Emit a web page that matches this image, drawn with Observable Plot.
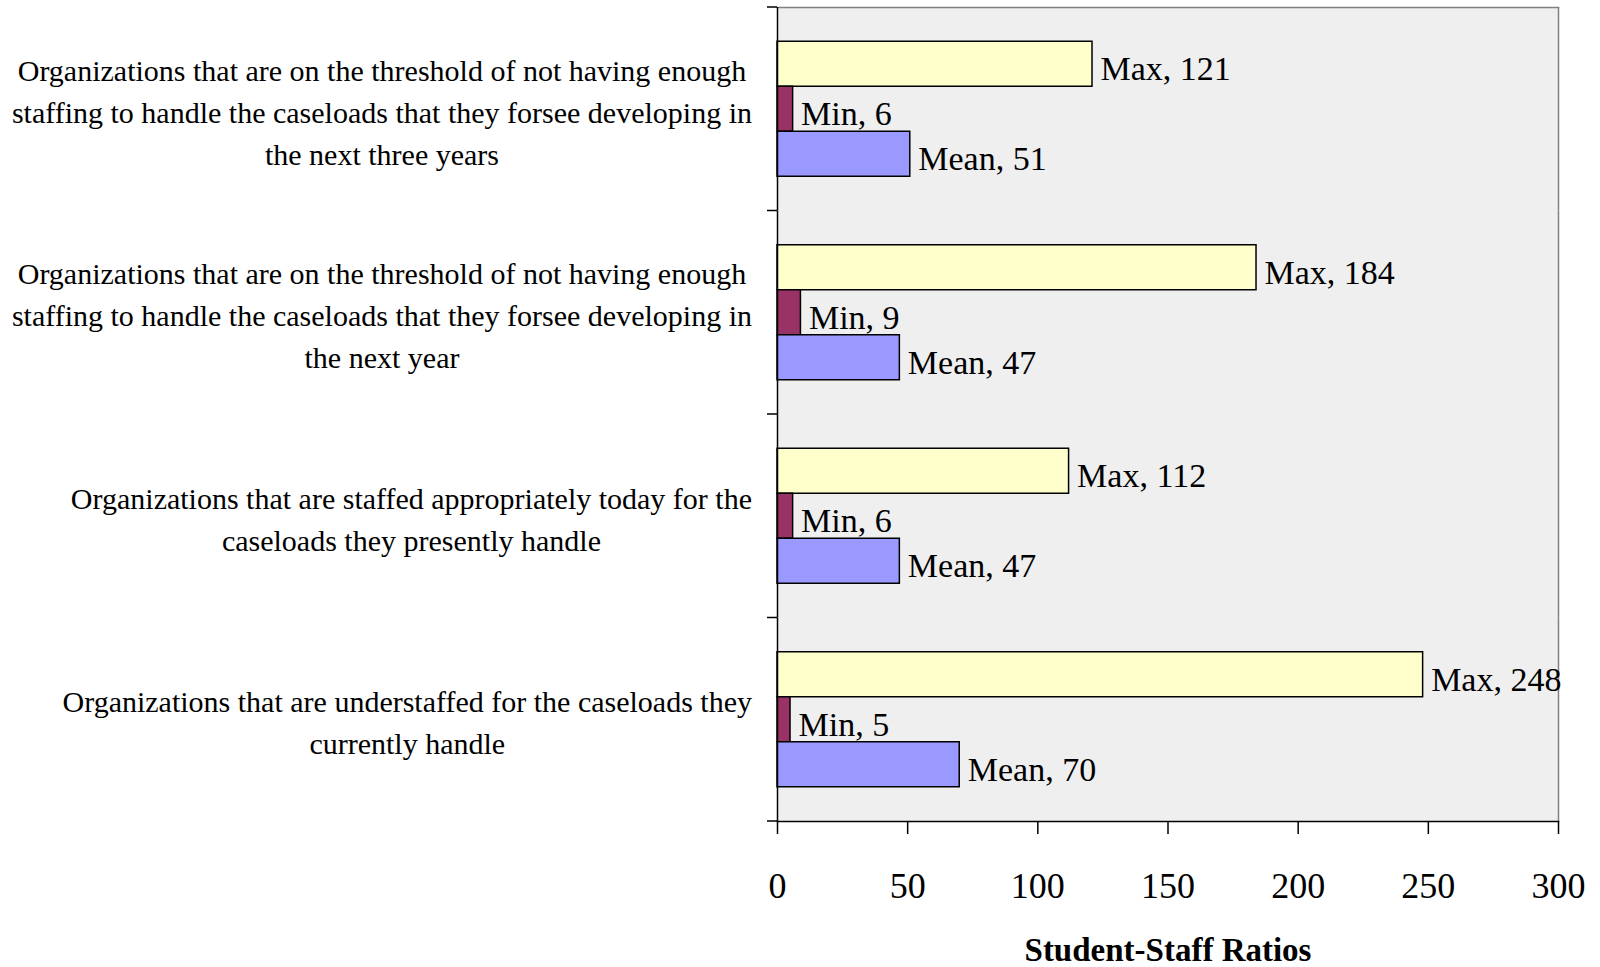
<!DOCTYPE html>
<html><head><meta charset="utf-8">
<script src="https://cdn.jsdelivr.net/npm/d3@7"></script>
<script src="https://cdn.jsdelivr.net/npm/@observablehq/plot@0.6"></script>
<style>body{margin:0;background:#fff}</style>
</head><body><div id="chart"></div>
<script>
const categories = [
  "Organizations that are on the threshold of not having enough\nstaffing to handle the caseloads that they forsee developing in\nthe next three years",
  "Organizations that are on the threshold of not having enough\nstaffing to handle the caseloads that they forsee developing in\nthe next year",
  "Organizations that are staffed appropriately today for the\ncaseloads they presently handle",
  "Organizations that are understaffed for the caseloads they\ncurrently handle"
];
const seriesNames = ["Max", "Min", "Mean"];
const maxValues = [121, 184, 112, 248];
const minValues = [6, 9, 6, 5];
const meanValues = [51, 47, 47, 70];
const xTicks = [0, 50, 100, 150, 200, 250, 300];
const xTitle = "Student-Staff Ratios";
const seriesColors = ["#FFFFCC", "#993366", "#9999FF"];

const seriesValues = [maxValues, minValues, meanValues];
const rows = categories.flatMap((c, i) =>
  seriesNames.map((s, j) => ({category: c, series: s, value: seriesValues[j][i]}))
);

const plot = Plot.plot({
  width: 1600,
  height: 967,
  marginLeft: 777,
  marginRight: 42,
  marginTop: 7,
  marginBottom: 146,
  style: {fontFamily: "'Liberation Serif','Times New Roman',serif", background: "white", color: "black"},
  x: {domain: [0, 300], axis: null},
  y: {domain: seriesNames, paddingInner: 0, paddingOuter: 0.761, axis: null, round: false},
  fy: {domain: categories, paddingInner: 0, paddingOuter: 0, axis: null, round: false},
  color: {domain: seriesNames, range: seriesColors},
  marks: [
    Plot.frame({fill: "#efefef", stroke: "#efefef"}),
    Plot.frame({anchor: "top", facetAnchor: "top", stroke: "#808080", strokeWidth: 1.5}),
    Plot.ruleX([300], {stroke: "#808080", strokeWidth: 1.5}),
    Plot.barX(rows, {fy: "category", y: "series", x: "value", fill: "series", stroke: "black", strokeWidth: 1.5}),
    Plot.text(rows, {
      fy: "category", y: "series", x: "value",
      text: d => `${d.series}, ${d.value}`,
      textAnchor: "start", dx: 8, dy: 5, fontSize: 34, fill: "black"
    }),
    Plot.ruleX([0], {stroke: "black", strokeWidth: 1.5}),
    Plot.frame({anchor: "bottom", facetAnchor: "bottom", stroke: "black", strokeWidth: 1.5}),
    Plot.axisX({ticks: xTicks, tickSize: 13, tickPadding: 38, fontSize: 36, label: null, tickFormat: d => d, strokeWidth: 1.5}),
    Plot.axisFy({anchor: "left", tickSize: 0, tickPadding: 25, fontSize: 30, lineHeight: 1.4, label: null, textAnchor: "middle"}),
    Plot.text([xTitle], {text: d => d, frameAnchor: "bottom", facetAnchor: "bottom", dy: 139, fontSize: 33, fontWeight: "bold", fill: "black"})
  ]
});

document.getElementById("chart").append(plot);

// right-align each category label block (lines centred on each other)
const labelRight = 752;
d3.select(plot).selectAll('g[aria-label="fy-axis tick label"] text').each(function() {
  const r = this.getBoundingClientRect();
  const shift = labelRight - r.right;
  const t = this.getAttribute("transform") || "";
  this.setAttribute("transform", `translate(${shift},0) ${t}`);
});

// category boundary ticks on the left axis
const xs = plot.scale("x");
const fys = plot.scale("fy");
const x0 = xs.apply(0);
const bw = fys.bandwidth != null ? fys.bandwidth : (fys.range[1] - fys.range[0]) / categories.length;
const bounds = categories.map(c => fys.apply(c)).concat([fys.apply(categories[categories.length - 1]) + bw]);
d3.select(plot).append("g")
  .selectAll("line").data(bounds).join("line")
  .attr("x1", x0 - 10).attr("x2", x0)
  .attr("y1", d => d).attr("y2", d => d)
  .attr("stroke", "black").attr("stroke-width", 1.5);
</script>
</body></html>
